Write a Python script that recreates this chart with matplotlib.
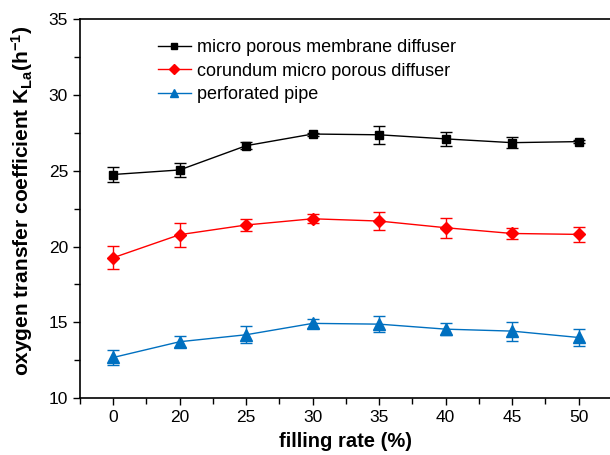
import matplotlib.pyplot as plt
from matplotlib.lines import Line2D
from matplotlib.ticker import MultipleLocator

plt.rcParams['font.family'] = ['Liberation Sans', 'DejaVu Sans']
plt.rcParams['mathtext.fontset'] = 'custom'
plt.rcParams['mathtext.rm'] = 'Liberation Sans'
plt.rcParams['mathtext.bf'] = 'Liberation Sans:bold'
plt.rcParams['mathtext.default'] = 'bf'

filling_rate = ['0', '20', '25', '30', '35', '40', '45', '50']

membrane = [24.75, 25.05, 26.65, 27.42, 27.37, 27.1, 26.85, 26.92]
membrane_err = [0.5, 0.45, 0.25, 0.1, 0.6, 0.45, 0.35, 0.1]

corundum = [19.26, 20.78, 21.42, 21.83, 21.68, 21.24, 20.86, 20.8]
corundum_err = [0.75, 0.8, 0.42, 0.3, 0.62, 0.65, 0.38, 0.5]

perforated = [12.68, 13.72, 14.18, 14.93, 14.88, 14.55, 14.42, 14.0]
perforated_err = [0.48, 0.35, 0.55, 0.3, 0.52, 0.38, 0.62, 0.55]

fig = plt.figure(figsize=(6.1, 4.55), dpi=100)
ax = fig.add_axes([0.131, 0.125, 0.872, 0.833])

x = list(range(len(filling_rate)))
series = [
    (membrane, membrane_err, 'black', 's', 6, 'micro porous membrane diffuser'),
    (corundum, corundum_err, '#ff0000', 'D', 6, 'corundum micro porous diffuser'),
    (perforated, perforated_err, '#0070c0', '^', 8, 'perforated pipe'),
]
handles = []
for vals, errs, color, marker, ms, label in series:
    ax.errorbar(x, vals, yerr=errs, color=color, marker=marker, markersize=ms,
                linewidth=1, elinewidth=1, capsize=4, capthick=1)
    handles.append(Line2D([], [], color=color, marker=marker, linewidth=1,
                          markersize=ms * 0.8, label=label))

ax.set_xlim(-0.5, 7.47)
ax.set_ylim(10, 35)
ax.set_xticks(x)
ax.set_xticklabels(filling_rate)
ax.set_xticks([i + 0.5 for i in range(-1, 8)], minor=True)
ax.yaxis.set_major_locator(MultipleLocator(5))
ax.yaxis.set_minor_locator(MultipleLocator(2.5))
ax.tick_params(which='both', direction='out', labelsize=12.5, width=1)
ax.tick_params(which='major', length=5)
ax.tick_params(which='minor', length=4)
ax.spines['right'].set_visible(False)
for s in ['left', 'bottom', 'top']:
    ax.spines[s].set_linewidth(1.2)

ax.set_xlabel('filling rate (%)', fontsize=14.5, fontweight='bold', labelpad=5)
ax.set_ylabel(r'oxygen transfer coefficient K$_{La}$(h$^{-1}$)', fontsize=15,
              fontweight='bold')
ax.yaxis.set_label_coords(-0.084, 0.52)

ax.legend(handles=handles, loc='upper left', bbox_to_anchor=(0.133, 0.967),
          frameon=False, fontsize=13, handlelength=1.83, handletextpad=0.33,
          labelspacing=0.37, borderaxespad=0)

fig.savefig('out.png', dpi=100)
